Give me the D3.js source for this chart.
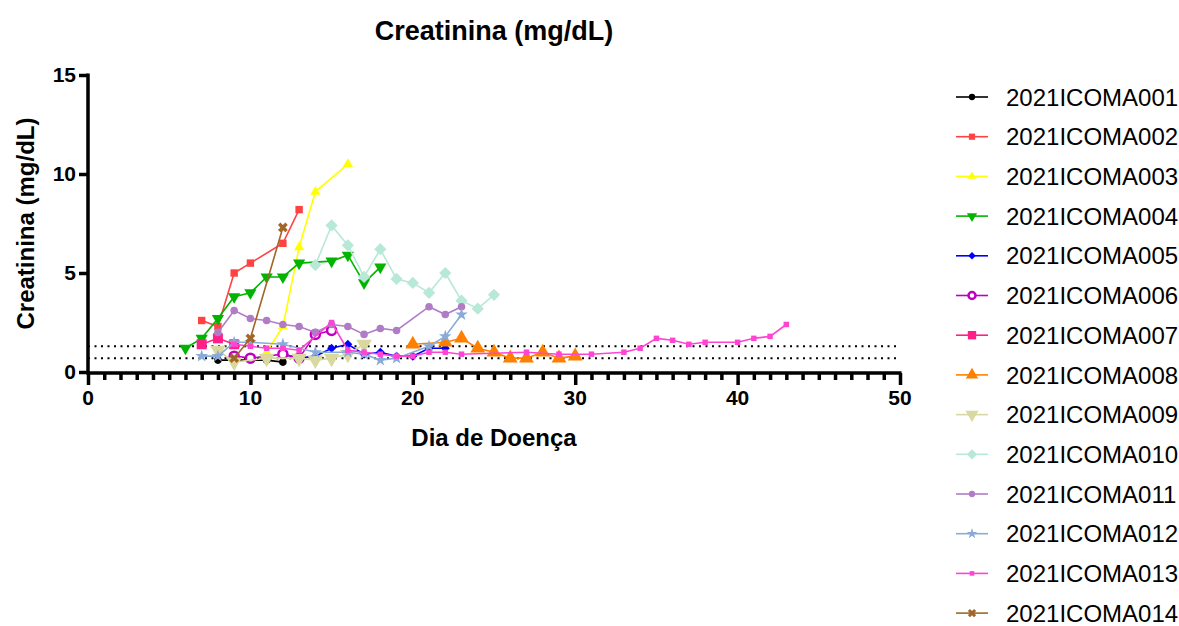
<!DOCTYPE html>
<html>
<head>
<meta charset="utf-8">
<script src="https://cdn.jsdelivr.net/npm/d3@7"></script>
<style>
  body { margin: 0; background: #fff; }
  svg { display: block; font-family: Arial, "Liberation Sans", sans-serif; }
</style>
</head>
<body>
<div id="chart"></div>
<script>
// dados: [dia de doença, creatinina]
const seriesNames = ["2021ICOMA001", "2021ICOMA002", "2021ICOMA003", "2021ICOMA004", "2021ICOMA005",
  "2021ICOMA006", "2021ICOMA007", "2021ICOMA008", "2021ICOMA009", "2021ICOMA010",
  "2021ICOMA011", "2021ICOMA012", "2021ICOMA013", "2021ICOMA014"];

const p001 = [[8, 0.6], [11, 0.6], [12, 0.5]];
const p002 = [[7, 2.6], [8, 2.3], [9, 5.0], [10, 5.5], [12, 6.5], [13, 8.2]];
const p003 = [[11, 1.0], [12, 2.3], [13, 6.3], [14, 9.1], [16, 10.5]];
const p004 = [[6, 1.2], [7, 1.7], [8, 2.7], [9, 3.8], [10, 4.0], [11, 4.8], [12, 4.8], [13, 5.5],
  [15, 5.6], [16, 5.9], [17, 4.5], [18, 5.3]];
const p005 = [[12, 0.9], [13, 0.7], [14, 0.8], [15, 1.2], [16, 1.4], [17, 0.9], [18, 1.0],
  [19, 0.8], [20, 0.8], [21, 1.2], [22, 1.2]];
const p006 = [[9, 0.8], [10, 0.7], [12, 0.9], [13, 0.7], [14, 1.9], [15, 2.1]];
const p007 = [[7, 1.4], [8, 1.7], [9, 1.4]];
const p008 = [[20, 1.4], [22, 1.5], [23, 1.7], [24, 1.2], [25, 1.0], [26, 0.7], [27, 0.7],
  [28, 1.0], [29, 0.7], [30, 0.8]];
const p009 = [[8, 1.1], [9, 0.5], [11, 0.7], [13, 0.7], [14, 0.6], [15, 0.7], [16, 0.9], [17, 1.4]];
const p010 = [[14, 5.4], [15, 7.4], [16, 6.4], [17, 4.8], [18, 6.2], [19, 4.7], [20, 4.5],
  [21, 4.0], [22, 5.0], [23, 3.6], [24, 3.2], [25, 3.9]];
const p011 = [[8, 2.0], [9, 3.1], [10, 2.7], [11, 2.6], [12, 2.4], [13, 2.3], [14, 2.0], [15, 2.4],
  [16, 2.3], [17, 1.9], [18, 2.2], [19, 2.1], [21, 3.3], [22, 2.9], [23, 3.3]];
const p012 = [[7, 0.8], [8, 0.8], [9, 1.5], [10, 1.5], [12, 1.4], [14, 1.0], [16, 1.0], [17, 0.9],
  [18, 0.6], [19, 0.7], [21, 1.3], [22, 1.8], [23, 2.9]];
const p013 = [[9, 1.4], [10, 1.3], [11, 1.2], [12, 1.2], [13, 1.1], [15, 2.5], [16, 1.1], [17, 1.0],
  [18, 0.9], [19, 0.8], [20, 0.8], [21, 1.0], [22, 1.0], [23, 0.9], [27, 1.0], [29, 0.9], [31, 0.9],
  [33, 1.0], [34, 1.2], [35, 1.7], [36, 1.6], [37, 1.4], [38, 1.5], [40, 1.5], [41, 1.7], [42, 1.8],
  [43, 2.4]];
const p014 = [[9, 0.7], [10, 1.7], [12, 7.3]];

const seriesData = [p001, p002, p003, p004, p005, p006, p007, p008, p009, p010, p011, p012, p013, p014];

// faixa de referência
const refLines = [0.7, 1.3];
const xTicks = [0, 10, 20, 30, 40, 50];
const yTicks = [0, 5, 10, 15];

// estilo de cada série
const styles = [
  { color: "#000000", symbol: d3.symbolCircle, size: 45 },
  { color: "#FF4242", symbol: d3.symbolSquare, size: 55 },
  { color: "#FFFF00", symbol: d3.symbolTriangle, size: 45 },
  { color: "#00B400", symbol: "down", size: 65 },
  { color: "#0000FF", symbol: "diamond", size: 40 },
  { color: "#BF00BF", symbol: "ring", size: 4.5 },
  { color: "#FF1F86", symbol: d3.symbolSquare, size: 100 },
  { color: "#FF8000", symbol: d3.symbolTriangle, size: 95 },
  { color: "#D8D8A0", symbol: "down", size: 105 },
  { color: "#B8E8D6", symbol: "diamond", size: 75 },
  { color: "#B07CC6", symbol: d3.symbolCircle, size: 45 },
  { color: "#8AAAD8", symbol: d3.symbolStar, size: 50 },
  { color: "#FF44D4", symbol: d3.symbolSquare, size: 30 },
  { color: "#A0662A", symbol: "x", size: 60 }
];

const W = 1179, H = 626;
const svg = d3.select("#chart").append("svg").attr("width", W).attr("height", H);

const x = d3.scaleLinear().domain([0, 50]).range([88, 900]);
const y = d3.scaleLinear().domain([0, 15]).range([372, 75]);

function drawMarker(g, st, px, py) {
  if (st.symbol === "ring") {
    g.append("circle").attr("cx", px).attr("cy", py).attr("r", st.size)
      .attr("fill", "#fff").attr("stroke", st.color).attr("stroke-width", 2.5);
  } else if (st.symbol === "down") {
    g.append("path").attr("d", d3.symbol(d3.symbolTriangle, st.size)())
      .attr("transform", `translate(${px},${py}) rotate(180)`).attr("fill", st.color);
  } else if (st.symbol === "diamond") {
    g.append("path").attr("d", d3.symbol(d3.symbolSquare, st.size)())
      .attr("transform", `translate(${px},${py}) rotate(45)`).attr("fill", st.color);
  } else if (st.symbol === "x") {
    g.append("path").attr("d", d3.symbol(d3.symbolCross, st.size)())
      .attr("transform", `translate(${px},${py}) rotate(45)`).attr("fill", st.color);
  } else {
    g.append("path").attr("d", d3.symbol(st.symbol, st.size)())
      .attr("transform", `translate(${px},${py})`).attr("fill", st.color);
  }
}

// linhas pontilhadas de referência
svg.append("g").selectAll("line").data(refLines).enter().append("line")
  .attr("x1", x(0)).attr("x2", x(50))
  .attr("y1", d => y(d)).attr("y2", d => y(d))
  .attr("stroke", "#000").attr("stroke-width", 2)
  .attr("stroke-dasharray", "2,4.5");

// séries
const line = d3.line().x(d => x(d[0])).y(d => y(d[1]));
seriesData.forEach((data, i) => {
  const st = styles[i];
  const g = svg.append("g");
  g.append("path").datum(data).attr("d", line)
    .attr("fill", "none").attr("stroke", st.color).attr("stroke-width", 1.6);
  data.forEach(d => drawMarker(g, st, x(d[0]), y(d[1])));
});

// eixo x
const xAxis = svg.append("g").attr("transform", `translate(0,${y(0) + 1})`);
xAxis.call(d3.axisBottom(x).tickValues(d3.range(0, 51, 1)).tickSize(6).tickFormat(""))
  .call(g => g.select(".domain").remove());
xAxis.selectAll(".tick line").attr("stroke", "#000").attr("stroke-width", 3.5)
  .attr("y2", d => d % 10 === 0 ? 12 : 7);
xAxis.append("line").attr("x1", x(0) - 1.5).attr("x2", x(50) + 1.5)
  .attr("stroke", "#000").attr("stroke-width", 3.5);
xAxis.selectAll(".lbl").data(xTicks).enter().append("text")
  .attr("class", "lbl")
  .attr("x", d => x(d)).attr("y", 32).attr("text-anchor", "middle")
  .attr("fill", "#000").attr("font-family", "Arial, 'Liberation Sans', sans-serif")
  .attr("font-size", 21).attr("font-weight", "bold").text(d => d);

// eixo y
const yAxis = svg.append("g").attr("transform", `translate(${x(0)},0)`);
yAxis.call(d3.axisLeft(y).tickValues(yTicks).tickSize(9).tickPadding(3))
  .call(g => g.select(".domain").remove());
yAxis.selectAll(".tick line").attr("stroke", "#000").attr("stroke-width", 3.5);
yAxis.selectAll(".tick text").attr("font-size", 21).attr("font-weight", "bold")
  .attr("font-family", "Arial, 'Liberation Sans', sans-serif").attr("fill", "#000");
yAxis.append("line").attr("y1", y(15) - 1.5).attr("y2", y(0) + 2.5)
  .attr("stroke", "#000").attr("stroke-width", 3.5);

// títulos
svg.append("text").attr("x", 494).attr("y", 40).attr("text-anchor", "middle")
  .attr("font-size", 27).attr("font-weight", "bold").text("Creatinina (mg/dL)");
svg.append("text").attr("x", 494).attr("y", 446).attr("text-anchor", "middle")
  .attr("font-size", 24).attr("font-weight", "bold").text("Dia de Doença");
svg.append("text").attr("transform", `translate(34,${y(7.5)}) rotate(-90)`)
  .attr("text-anchor", "middle").attr("font-size", 24).attr("font-weight", "bold")
  .text("Creatinina (mg/dL)");

// legenda
const legend = svg.append("g");
seriesNames.forEach((name, i) => {
  const st = styles[i];
  const ly = 97 + i * 39.7;
  const g = legend.append("g");
  g.append("line").attr("x1", 956).attr("x2", 988).attr("y1", ly).attr("y2", ly)
    .attr("stroke", st.color).attr("stroke-width", 1.6);
  const small = Object.assign({}, st, { size: st.symbol === "ring" ? 3.5 : st.size * 0.7 });
  drawMarker(g, small, 972, ly);
  g.append("text").attr("x", 1006).attr("y", ly).attr("dy", "0.36em")
    .attr("font-size", 24).text(name);
});
</script>
</body>
</html>
